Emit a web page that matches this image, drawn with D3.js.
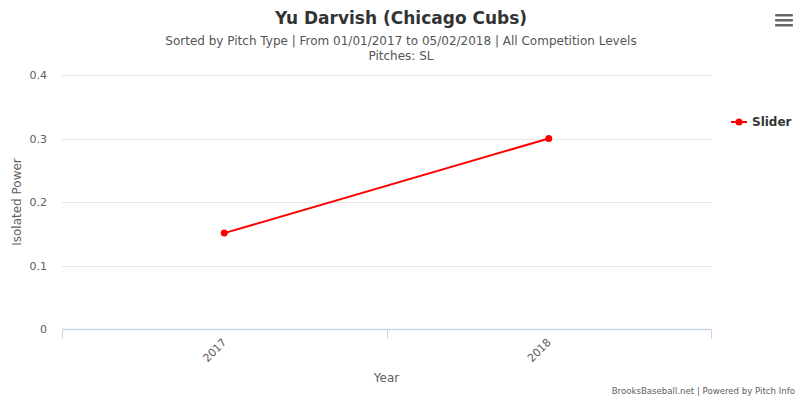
<!DOCTYPE html>
<html>
<head>
<meta charset="utf-8">
<script src="https://cdn.jsdelivr.net/npm/d3@7"></script>
<style>
  body { margin: 0; background: #fff; }
  svg { display: block; font-family: "DejaVu Sans", "Lucida Grande", Arial, sans-serif; }
</style>
</head>
<body>
<div id="chart"></div>
<script>
// chart data
var years = ["2017", "2018"];
var sliderValues = [0.151, 0.300];
var yTicks = [0, 0.1, 0.2, 0.3, 0.4];

var WIDTH = 802, HEIGHT = 398;
var margin = {left: 62, right: 91, top: 75, bottom: 69};

var svg = d3.select("#chart").append("svg")
  .attr("width", WIDTH)
  .attr("height", HEIGHT);

var x = d3.scaleBand()
  .domain(years)
  .range([margin.left, WIDTH - margin.right]);

var y = d3.scaleLinear()
  .domain([0, 0.4])
  .range([HEIGHT - margin.bottom, margin.top]);

// gridlines
svg.append("g")
  .selectAll("line")
  .data(yTicks.filter(d => d > 0))
  .join("line")
    .attr("x1", margin.left)
    .attr("x2", WIDTH - margin.right)
    .attr("y1", d => Math.round(y(d)) + 0.5)
    .attr("y2", d => Math.round(y(d)) + 0.5)
    .attr("stroke", "#e6e6e6");

// y axis labels
svg.append("g")
  .selectAll("text")
  .data(yTicks)
  .join("text")
    .attr("x", 47)
    .attr("y", d => y(d) + 4)
    .attr("text-anchor", "end")
    .style("font-size", "11px")
    .attr("fill", "#606060")
    .text(d => d === 0 ? "0" : d3.format(".1f")(d));

svg.append("text")
  .attr("transform", "translate(21," + ((margin.top + HEIGHT - margin.bottom) / 2) + ") rotate(-90)")
  .attr("text-anchor", "middle")
  .style("font-size", "12px")
  .attr("fill", "#606060")
  .text("Isolated Power");

// x axis
var x0 = HEIGHT - margin.bottom;
svg.append("line")
  .attr("x1", margin.left)
  .attr("x2", WIDTH - margin.right)
  .attr("y1", x0 + 0.5)
  .attr("y2", x0 + 0.5)
  .attr("stroke", "#ccd6eb")
  .attr("stroke-width", 1.5);

var boundaries = years.map(d => x(d)).concat([x.range()[1]]);
svg.append("g")
  .selectAll("line")
  .data(boundaries)
  .join("line")
    .attr("x1", d => Math.round(d) + 0.5)
    .attr("x2", d => Math.round(d) + 0.5)
    .attr("y1", x0)
    .attr("y2", x0 + 10)
    .attr("stroke", "#ccd6eb");

svg.append("g")
  .selectAll("text")
  .data(years)
  .join("text")
    .attr("transform", d => "translate(" + (x(d) + x.bandwidth() / 2 + 3) + "," + (x0 + 14) + ") rotate(-45)")
    .attr("text-anchor", "end")
    .style("font-size", "11px")
    .attr("fill", "#606060")
    .text(d => d);

svg.append("text")
  .attr("x", (margin.left + WIDTH - margin.right) / 2)
  .attr("y", 382)
  .attr("text-anchor", "middle")
  .style("font-size", "12px")
  .attr("fill", "#606060")
  .text("Year");

// series line
var line = d3.line()
  .x((d, i) => x(years[i]) + x.bandwidth() / 2)
  .y(d => y(d));

svg.append("path")
  .datum(sliderValues)
  .attr("d", line)
  .attr("fill", "none")
  .attr("stroke", "#ff0000")
  .attr("stroke-width", 2);

svg.append("g")
  .selectAll("circle")
  .data(sliderValues)
  .join("circle")
    .attr("cx", (d, i) => x(years[i]) + x.bandwidth() / 2)
    .attr("cy", d => y(d))
    .attr("r", 3.5)
    .attr("fill", "#ff0000");

// title + subtitle
svg.append("text")
  .attr("x", WIDTH / 2)
  .attr("y", 24)
  .attr("text-anchor", "middle")
  .style("font-size", "17px")
  .attr("font-weight", "bold")
  .attr("fill", "#333333")
  .text("Yu Darvish (Chicago Cubs)");

svg.append("text")
  .attr("x", WIDTH / 2)
  .attr("y", 45)
  .attr("text-anchor", "middle")
  .style("font-size", "12px")
  .attr("fill", "#555555")
  .text("Sorted by Pitch Type | From 01/01/2017 to 05/02/2018 | All Competition Levels");

svg.append("text")
  .attr("x", WIDTH / 2)
  .attr("y", 60)
  .attr("text-anchor", "middle")
  .style("font-size", "12px")
  .attr("fill", "#555555")
  .text("Pitches: SL");

// legend
var legend = svg.append("g").attr("transform", "translate(731,122)");
legend.append("line")
  .attr("x1", 0).attr("x2", 16)
  .attr("stroke", "#ff0000")
  .attr("stroke-width", 2);
legend.append("circle")
  .attr("cx", 8)
  .attr("r", 3.5)
  .attr("fill", "#ff0000");
legend.append("text")
  .attr("x", 21)
  .attr("y", 4)
  .style("font-size", "12px")
  .attr("font-weight", "bold")
  .attr("fill", "#333333")
  .text("Slider");

// menu icon
svg.append("g")
  .selectAll("rect")
  .data([0, 1, 2])
  .join("rect")
    .attr("x", 775)
    .attr("y", d => 14 + d * 5)
    .attr("width", 18)
    .attr("height", 2.5)
    .attr("rx", 1)
    .attr("fill", "#666666");

// credits
svg.append("text")
  .attr("x", 795)
  .attr("y", 394)
  .attr("text-anchor", "end")
  .style("font-size", "8.6px")
  .attr("fill", "#606060")
  .text("BrooksBaseball.net | Powered by Pitch Info");
</script>
</body>
</html>
